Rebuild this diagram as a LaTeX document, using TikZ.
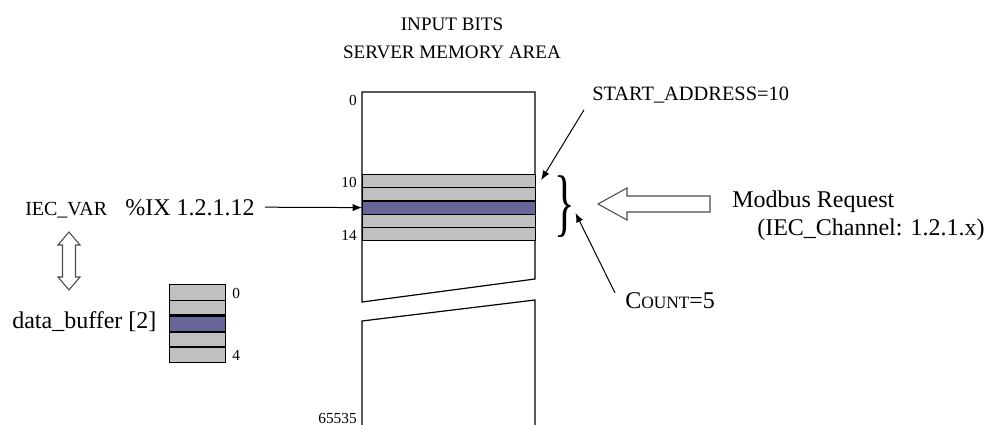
\documentclass[tikz,border=0pt]{standalone}
\usepackage{fontspec}
\setmainfont{Liberation Serif}
\usetikzlibrary{calc, arrows.meta}

\definecolor{cellgray}{RGB}{192,192,192}
\definecolor{bitpurple}{RGB}{102,102,153}

\begin{document}
\begin{tikzpicture}[x=0.75pt, y=-0.75pt, >={Latex[length=7pt, width=5.5pt]},
    memcell/.style={draw, fill=cellgray, line width=0.9pt, anchor=north west,
        inner sep=0pt, minimum width=129.75pt, minimum height=9.9pt},
    bufcell/.style={draw, fill=cellgray, line width=0.9pt, anchor=north west,
        inner sep=0pt, minimum width=42pt, minimum height=11.7pt},
    lbl/.style={inner sep=0pt, anchor=base west},
    addr/.style={inner sep=0pt, anchor=base east, font=\fontsize{11.5}{12}\selectfont},
    hollow/.style={draw=black!70, fill=white, line width=0.8pt, line join=miter}]

    \useasboundingbox (0,0) rectangle (986,425);

    % 1. Tiêu đề
    \node[inner sep=0pt, anchor=base, font=\fontsize{14.3}{15}\selectfont] (title1) at (452,30) {INPUT BITS};
    \node[inner sep=0pt, anchor=base, font=\fontsize{14.3}{15}\selectfont] (title2) at (452,58) {SERVER MEMORY AREA};

    % 2. Vùng nhớ (hai mảnh)
    \draw[line width=0.9pt, fill=white] (362,92) -- (535,92) -- (535,279) -- (362,302) -- cycle;
    \draw[line width=0.9pt] (362,426) -- (362,321) -- (535,300) -- (535,426);

    % 3. Các bit 10..14
    \node[memcell] (r10) at (362,174) {};
    \node[memcell] (r11) at (362,187.2) {};
    \node[memcell, fill=bitpurple] (r12) at (362,200.4) {};
    \node[memcell] (r13) at (362,213.6) {};
    \node[memcell] (r14) at (362,226.8) {};

    % Địa chỉ
    \node[addr] (a0) at (357,105) {0};
    \node[addr] (a10) at (357,187) {10};
    \node[addr] (a14) at (357,240) {14};
    \node[addr] (a65535) at (357,423) {65535};

    % 4. Biến IEC
    \node[lbl, font=\fontsize{15}{16}\selectfont] (iecvar) at (25,215) {IEC\_VAR};
    \node[lbl, font=\fontsize{18}{20}\selectfont] (ix) at (125,215) {\%IX 1.2.1.12};
    \draw[->, line width=0.75pt] ($(ix.east)+(10,0)$) -- (r12.west);

    \draw[hollow] (69,232) -- (80,245) -- (75.5,245) -- (75.5,277) -- (80,277) -- (69,290)
        -- (58,277) -- (62.5,277) -- (62.5,245) -- (58,245) -- cycle;

    % 5. Bộ đệm data_buffer
    \node[lbl, font=\fontsize{18}{20}\selectfont] (dbuf) at (12,328) {data\_buffer [2]};
    \node[bufcell] (b0) at (169,284) {};
    \node[bufcell] (b1) at (169,299.6) {};
    \node[bufcell] (b3) at (169,330.8) {};
    \node[bufcell] (b4) at (169,346.4) {};
    \node[bufcell, fill=bitpurple] (b2) at (169,315.2) {};
    \draw[line width=2pt] (b2.north west) -- (b2.north east) (b2.south west) -- (b2.south east);
    \node[addr, anchor=base west] (i0) at (232,298) {0};
    \node[addr, anchor=base west] (i4) at (232,360) {4};

    % 6. Yêu cầu Modbus
    \node[inner sep=0pt] (brace) at (565,207) {\scalebox{0.8}[1.4]{\fontsize{40}{40}\selectfont\}}};
    \draw[hollow] (598,204) -- (627,188) -- (627,196) -- (710,196) -- (710,212) -- (627,212)
        -- (627,220) -- cycle;
    \node[lbl, font=\fontsize{18}{20}\selectfont] (modbus) at (732,207) {Modbus Request};
    \node[lbl, font=\fontsize{18}{20}\selectfont] (channel) at (757,235) {(IEC\_Channel: 1.2.1.x)};

    \node[lbl, font=\fontsize{15.3}{16}\selectfont] (start) at (592,100) {START\_ADDRESS=10};
    \draw[->, line width=0.75pt] ($(start.south west)+(-8,7)$) -- ($(r10.north east)+(5,6)$);

    \node[lbl, font=\fontsize{18}{20}\selectfont] (count) at (625,308) {C{\fontsize{13}{14}\selectfont OUNT}=5};
    \draw[->, line width=0.75pt] ($(count.north west)+(-10,1)$) -- ($(brace.east)+(0,6)$);

\end{tikzpicture}
\end{document}
